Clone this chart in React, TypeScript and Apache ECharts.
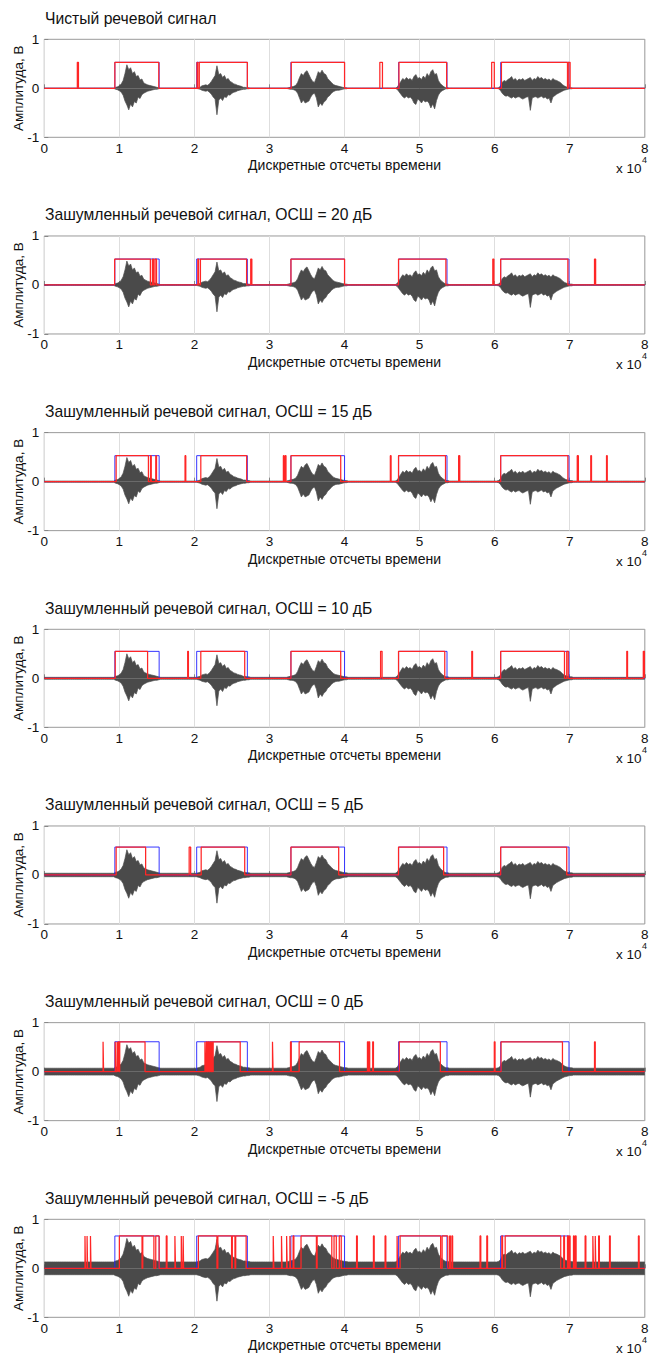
import React, { useEffect, useRef } from "react";
import * as echarts from "echarts";

const FONT = "'Liberation Sans', Arial, Helvetica, sans-serif";

const plotTitles = [
  "Чистый речевой сигнал",
  "Зашумленный речевой сигнал, ОСШ = 20 дБ",
  "Зашумленный речевой сигнал, ОСШ = 15 дБ",
  "Зашумленный речевой сигнал, ОСШ = 10 дБ",
  "Зашумленный речевой сигнал, ОСШ = 5 дБ",
  "Зашумленный речевой сигнал, ОСШ = 0 дБ",
  "Зашумленный речевой сигнал, ОСШ = -5 дБ",
];

const xTickLabels = ["0", "1", "2", "3", "4", "5", "6", "7", "8"];
const yTickLabels = ["-1", "0", "1"];

// noise amplitude (envelope) per plot
const noiseLevel = [0, 0.008, 0.012, 0.02, 0.035, 0.07, 0.13];
// height of the VAD rectangles per plot
const vadHeight = [0.53, 0.53, 0.53, 0.55, 0.57, 0.61, 0.66];

// speech envelope, one value per 250 samples, starting at speechStart
const speechStart = [9500, 20500, 32500, 47000, 60500];
const speechUpper = [
  [0.02, 0.03, 0.05, 0.09, 0.16, 0.3, 0.48, 0.38, 0.42, 0.3, 0.34, 0.24, 0.26, 0.17, 0.19, 0.11, 0.09, 0.07, 0.06, 0.05, 0.04, 0.03, 0.02, 0.01],
  [0.01, 0.02, 0.05, 0.06, 0.07, 0.06, 0.09, 0.14, 0.2, 0.26, 0.46, 0.28, 0.3, 0.22, 0.26, 0.18, 0.2, 0.14, 0.12, 0.09, 0.08, 0.06, 0.05, 0.04, 0.02, 0.02, 0.01, 0.01],
  [0.01, 0.02, 0.03, 0.04, 0.06, 0.12, 0.22, 0.3, 0.26, 0.33, 0.36, 0.28, 0.2, 0.14, 0.12, 0.22, 0.34, 0.3, 0.37, 0.3, 0.28, 0.2, 0.16, 0.12, 0.08, 0.06, 0.05, 0.04, 0.03, 0.02, 0.01, 0.01],
  [0.02, 0.08, 0.14, 0.2, 0.17, 0.22, 0.18, 0.2, 0.16, 0.24, 0.28, 0.2, 0.22, 0.18, 0.25, 0.2, 0.3, 0.24, 0.34, 0.38, 0.28, 0.3, 0.16, 0.1, 0.06, 0.03, 0.01, 0.01],
  [0.01, 0.04, 0.12, 0.16, 0.14, 0.18, 0.2, 0.24, 0.17, 0.2, 0.15, 0.19, 0.17, 0.2, 0.16, 0.18, 0.2, 0.22, 0.16, 0.2, 0.18, 0.24, 0.2, 0.22, 0.18, 0.2, 0.17, 0.19, 0.15, 0.2, 0.17, 0.16, 0.14, 0.12, 0.08, 0.05, 0.03, 0.02, 0.01, 0.01],
];
const speechLower = [
  [-0.02, -0.03, -0.05, -0.08, -0.14, -0.26, -0.34, -0.44, -0.32, -0.38, -0.27, -0.3, -0.18, -0.21, -0.13, -0.1, -0.08, -0.06, -0.05, -0.04, -0.03, -0.02, -0.02, -0.01],
  [-0.01, -0.02, -0.04, -0.05, -0.06, -0.05, -0.08, -0.12, -0.18, -0.22, -0.54, -0.24, -0.2, -0.25, -0.17, -0.19, -0.13, -0.14, -0.1, -0.08, -0.07, -0.05, -0.04, -0.03, -0.02, -0.02, -0.01, -0.01],
  [-0.01, -0.02, -0.02, -0.03, -0.05, -0.1, -0.2, -0.3, -0.24, -0.3, -0.28, -0.26, -0.18, -0.12, -0.1, -0.2, -0.38, -0.3, -0.35, -0.28, -0.25, -0.18, -0.15, -0.1, -0.07, -0.05, -0.04, -0.04, -0.03, -0.02, -0.01, -0.01],
  [-0.02, -0.07, -0.12, -0.17, -0.2, -0.16, -0.2, -0.18, -0.22, -0.3, -0.33, -0.22, -0.25, -0.3, -0.24, -0.28, -0.26, -0.3, -0.4, -0.32, -0.42, -0.25, -0.14, -0.08, -0.05, -0.03, -0.01, -0.01],
  [-0.01, -0.04, -0.1, -0.14, -0.16, -0.15, -0.18, -0.2, -0.17, -0.2, -0.18, -0.17, -0.2, -0.22, -0.2, -0.18, -0.17, -0.45, -0.2, -0.18, -0.17, -0.2, -0.18, -0.16, -0.2, -0.18, -0.22, -0.2, -0.3, -0.18, -0.15, -0.12, -0.1, -0.08, -0.06, -0.04, -0.03, -0.02, -0.01, -0.01],
];

// reference (blue) speech segments, in samples
const referenceSegments = [
  [9400, 15300],
  [20300, 27050],
  [32850, 40000],
  [47200, 53650],
  [60800, 69900],
];

// detected (red) segments per plot
const detectedClean = [
  [4400, 4550], [9400, 15250], [20350, 20450], [20650, 27050], [32900, 40000],
  [44700, 45050], [47250, 53600], [59600, 59950], [60900, 69700], [69800, 70050],
];
const detected20 = [
  [9370, 14130], [14400, 14550], [14750, 14950], [20450, 20550], [20800, 26950],
  [27500, 27650], [32860, 40000], [47190, 53500], [59750, 59900], [60800, 69750],
  [73300, 73450],
];
const detected15 = [
  [9570, 13870], [14150, 14250], [14850, 14950], [18750, 18850], [20850, 26960],
  [31850, 31950], [32100, 32200], [32860, 39490], [46100, 46200], [47190, 53450],
  [55200, 55350], [60800, 69750], [71000, 71150], [72800, 72900], [74900, 75000],
];
const detected10 = [
  [9450, 13760], [19100, 19200], [20850, 26700], [32860, 39490], [44800, 45000],
  [47190, 53350], [56950, 57050], [60800, 69300], [69600, 69800], [77600, 77700],
  [79800, 79950],
];
const detected5 = [
  [9570, 13500], [19300, 19500], [20900, 26700], [32860, 39220], [47190, 53200],
  [60800, 69600],
];
const detected0 = [
  [7830, 7900], [9450, 9520], [9700, 9780], [9850, 9950], [10050, 13420],
  [21400, 21480], [21600, 21700], [21850, 21950], [22100, 22200], [22300, 22400],
  [22500, 26100], [30400, 30480], [32800, 32900], [33950, 39330], [43050, 43150],
  [43250, 43350], [43750, 43850], [47290, 52760], [59950, 60050], [60850, 69030],
  [73300, 73400],
];
const detectedMinus5 = [
  [5420, 5480], [5700, 5770], [6150, 6220], [10000, 13020], [13120, 14600],
  [14850, 15300], [16250, 16350], [17400, 17480], [18250, 18330], [18500, 18560],
  [20530, 23000], [23120, 24950], [25050, 25400], [25500, 26890], [30500, 30580],
  [31600, 31680], [32280, 32360], [32720, 32800], [33150, 33250], [34200, 36250],
  [36350, 38300], [38600, 38900], [39300, 39560], [41600, 41700], [43850, 43950],
  [45400, 45500], [47000, 47060], [47400, 52800], [53000, 53750], [54000, 54100],
  [54300, 54400], [58050, 58150], [58950, 59050], [60950, 61050], [61400, 68800],
  [69200, 69300], [69700, 69800], [69950, 70050], [70500, 70600], [70750, 70850],
  [72050, 72150], [73080, 73160], [73400, 73480], [73850, 73950], [75300, 75400],
  [79150, 79250],
];
const detectedSegments = [
  detectedClean, detected20, detected15, detected10, detected5, detected0, detectedMinus5,
];

const X_MAX = 80000;
const ENV_STEP = 250;

function stepData(segs: number[][], h: number) {
  const pts: number[][] = [[0, 0]];
  for (const [s, e] of segs) {
    pts.push([s, 0], [s, h], [e, h], [e, 0]);
  }
  pts.push([X_MAX, 0]);
  return pts;
}

function speechEnvelope() {
  const n = X_MAX / ENV_STEP + 1;
  const up = new Array(n).fill(0);
  const lo = new Array(n).fill(0);
  speechStart.forEach((st, k) => {
    const i0 = st / ENV_STEP;
    speechUpper[k].forEach((v, j) => (up[i0 + j] = v));
    speechLower[k].forEach((v, j) => (lo[i0 + j] = v));
  });
  return { up, lo, n };
}

export default function App() {
  const ref = useRef<HTMLDivElement>(null);
  useEffect(() => {
    if (!ref.current) return;
    const chart = echarts.init(ref.current, undefined, { renderer: "svg" });
    const { up, lo, n } = speechEnvelope();
    const top0 = 39.3;
    const step = 196.67;
    const gh = 98;
    const gl = 44.3;
    const gw = 600.5;

    const grids: any[] = [];
    const xAxes: any[] = [];
    const yAxes: any[] = [];
    const series: any[] = [];
    const titles: any[] = [];
    const graphics: any[] = [];

    plotTitles.forEach((t, p) => {
      const top = top0 + p * step;
      grids.push({
        left: gl, top, width: gw, height: gh, outerBoundsMode: "none", containLabel: false,
        show: true, borderColor: "#9a9a9a", borderWidth: 1, backgroundColor: "#fff",
      });
      titles.push({
        text: t, left: 40, top: top - 34,
        textStyle: { fontFamily: FONT, fontSize: 15.7, fontWeight: "normal", color: "#111" },
      });
      xAxes.push({
        type: "value", gridIndex: p, min: 0, max: X_MAX, interval: 10000,
        name: "Дискретные отсчеты времени", nameLocation: "middle", nameGap: 21,
        nameTextStyle: { fontFamily: FONT, fontSize: 14, color: "#111" },
        axisLine: { show: false },
        axisTick: { show: true, inside: true, length: 4, lineStyle: { color: "#888" } },
        axisLabel: {
          fontFamily: FONT, fontSize: 13.5, color: "#111", margin: 4,
          formatter: (v: number) => xTickLabels[Math.round(v / 10000)],
        },
        splitLine: { show: true, lineStyle: { color: "#dedede", width: 1 } },
      });
      yAxes.push({
        type: "value", gridIndex: p, min: -1, max: 1, interval: 1,
        name: "Амплитуда, В", nameLocation: "middle", nameGap: 19, nameRotate: 90,
        nameMoveOverlap: false,
        nameTextStyle: { fontFamily: FONT, fontSize: 13.5, color: "#111" },
        axisLine: { show: false },
        axisTick: { show: true, inside: true, length: 4, lineStyle: { color: "#888" } },
        axisLabel: {
          fontFamily: FONT, fontSize: 13.5, color: "#111", margin: 5,
          formatter: (v: number) => yTickLabels[Math.round(v) + 1],
        },
        splitLine: { show: false },
      });
      const nz = noiseLevel[p];
      const upData: number[][] = [];
      const loData: number[][] = [];
      for (let i = 0; i < n; i++) {
        upData.push([i * ENV_STEP, up[i] + nz]);
        loData.push([i * ENV_STEP, lo[i] - nz]);
      }
      const waveStyle = {
        type: "line", xAxisIndex: p, yAxisIndex: p, symbol: "none", showSymbol: false,
        lineStyle: { color: "#505050", width: 0.7 },
        areaStyle: { color: "#4a4a4a", opacity: 1, origin: 0 },
        z: 2, silent: true,
      };
      series.push({ ...waveStyle, name: "up" + p, data: upData });
      series.push({ ...waveStyle, name: "lo" + p, data: loData });
      series.push({
        type: "line", xAxisIndex: p, yAxisIndex: p, symbol: "none", showSymbol: false,
        data: stepData(referenceSegments, vadHeight[p]),
        lineStyle: { color: "#2020ff", width: 1, opacity: 0.9 }, z: 3, silent: true,
      });
      series.push({
        type: "line", xAxisIndex: p, yAxisIndex: p, symbol: "none", showSymbol: false,
        data: stepData(detectedSegments[p], vadHeight[p]),
        lineStyle: { color: "#ff2626", width: 1.25, opacity: 1 }, z: 4, silent: true,
      });
      graphics.push({
        type: "text", left: 616, top: top + 122,
        style: { text: "x 10", fontFamily: FONT, fontSize: 13.5, fill: "#111" },
      });
      graphics.push({
        type: "text", left: 642, top: top + 116,
        style: { text: "4", fontFamily: FONT, fontSize: 9, fill: "#111" },
      });
    });

    chart.setOption({
      animation: false,
      backgroundColor: "#fff",
      title: titles,
      grid: grids,
      xAxis: xAxes,
      yAxis: yAxes,
      series,
      graphic: graphics,
    });
    return () => chart.dispose();
  }, []);
  return (
    <div
      ref={ref}
      style={{ position: "absolute", left: 0, top: 0, width: 649, height: 1356 }}
    />
  );
}
